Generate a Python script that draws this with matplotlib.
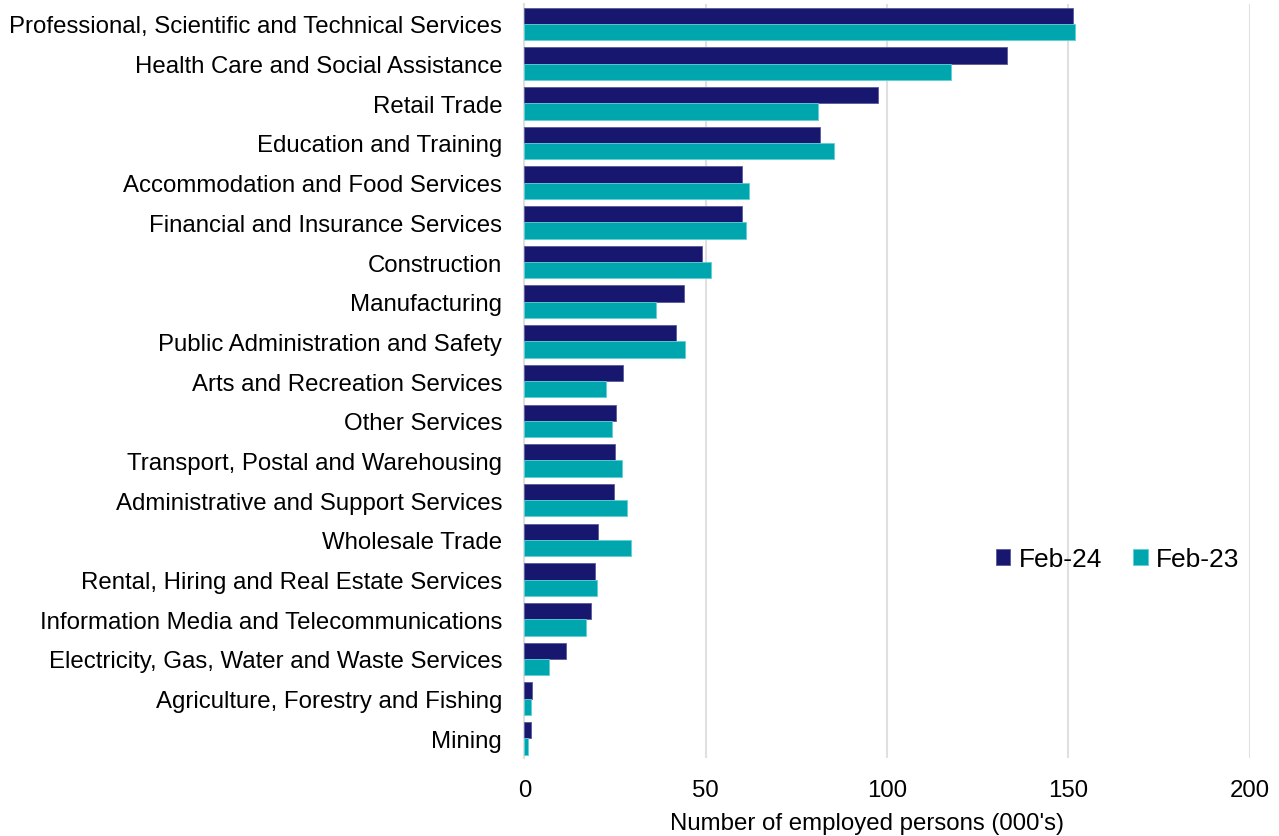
import matplotlib.pyplot as plt
import numpy as np

plt.rcParams['font.family'] = ['Liberation Sans', 'DejaVu Sans']

# Industries, top to bottom as shown
industries = [
    'Professional, Scientific and Technical Services',
    'Health Care and Social Assistance',
    'Retail Trade',
    'Education and Training',
    'Accommodation and Food Services',
    'Financial and Insurance Services',
    'Construction',
    'Manufacturing',
    'Public Administration and Safety',
    'Arts and Recreation Services',
    'Other Services',
    'Transport, Postal and Warehousing',
    'Administrative and Support Services',
    'Wholesale Trade',
    'Rental, Hiring and Real Estate Services',
    'Information Media and Telecommunications',
    'Electricity, Gas, Water and Waste Services',
    'Agriculture, Forestry and Fishing',
    'Mining',
]

# Employed persons (000's)
feb24 = [151.3, 133.2, 97.5, 81.6, 60.1, 60.1, 49.0, 43.9, 41.7, 27.3,
         25.3, 25.0, 24.8, 20.4, 19.4, 18.5, 11.4, 2.1, 1.7]
feb23 = [151.8, 117.7, 80.9, 85.4, 62.0, 61.1, 51.4, 36.4, 44.4, 22.5,
         24.2, 26.9, 28.2, 29.4, 19.9, 17.0, 6.9, 1.7, 1.1]

navy = '#18176f'
teal = '#00a6ae'

fig = plt.figure(figsize=(12.79, 8.37), dpi=100)
ax = fig.add_axes([0.41, 0.093, 0.567, 0.901])

y = np.arange(len(industries))
h = 0.41
ax.barh(y - h / 2, feb24, height=h, color=navy, edgecolor='#5a5a9a', linewidth=0.6, label='Feb-24', zorder=3)
ax.barh(y + h / 2, feb23, height=h, color=teal, edgecolor='#5fd0d5', linewidth=0.6, label='Feb-23', zorder=3)

ax.set_ylim(len(industries) - 0.5, -0.5)
ax.set_xlim(0, 200)
ax.set_xticks([0, 50, 100, 150, 200])
ax.set_yticks(y)
ax.set_yticklabels(industries, fontsize=17.3)
ax.tick_params(axis='x', labelsize=17.3, length=0, pad=15)
ax.tick_params(axis='y', length=0, pad=16)

ax.grid(axis='x', color='#e0e0e0', linewidth=1.5, zorder=0)
for s in ['top', 'right', 'bottom']:
    ax.spines[s].set_visible(False)
ax.spines['left'].set_color('#e0e0e0')
ax.spines['left'].set_linewidth(1.5)

ax.set_xlabel("Number of employed persons (000's)", fontsize=17.3)
ax.xaxis.set_label_coords(0.473, -0.072)

ax.legend(loc='center', bbox_to_anchor=(0.818, 0.264), ncol=2, frameon=False,
          fontsize=19, handlelength=0.55, handleheight=0.55, handletextpad=0.3,
          columnspacing=1.2)

fig.savefig('out.png', dpi=100)
